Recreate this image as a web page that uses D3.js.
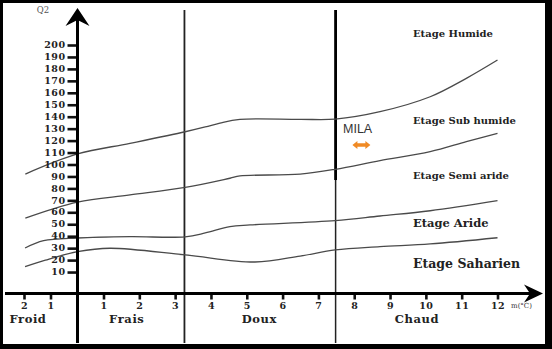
<!DOCTYPE html>
<html>
<head>
<meta charset="utf-8">
<script src="https://cdn.jsdelivr.net/npm/d3@7"></script>
<style>
  body { margin: 0; background: #000; }
  svg { display: block; }
</style>
</head>
<body>
<div id="chart"></div>
<script>
// climagramme d'Emberger : Q2 en fonction de m (°C)
var mTicks = [-2, -1, 1, 2, 3, 4, 5, 6, 7, 8, 9, 10, 11, 12];
var q2Ticks = [10, 20, 30, 40, 50, 60, 70, 80, 90, 100, 110, 120, 130, 140, 150, 160, 170, 180, 190, 200];

// limites entre étages (m, Q2)
var limHumide = [[-1.95, 92], [0, 108.8], [1.74, 117.7], [3.28, 127.4], [3.84, 131.4], [4.25, 134.7], [4.81, 137.8], [6.49, 137.8], [7.47, 138], [8.72, 144.2], [10.12, 156.7], [11.13, 172.1], [12, 187.4]];
var limSubHumide = [[-1.95, 55.2], [0, 68.6], [1.74, 74.5], [3.28, 80.8], [4.53, 88.5], [4.81, 90.4], [6.49, 92], [7.47, 96], [8.72, 103.2], [10.12, 110.7], [11.13, 119.1], [12, 126.1]];
var limSemiAride = [[-1.96, 30.1], [-1.26, 36.2], [0, 38.5], [1.74, 39.6], [3.28, 39.5], [3.84, 42.7], [4.53, 48], [5.09, 49.4], [7.47, 53], [8.72, 56.9], [10.12, 61.3], [12, 69.7]];
var limAride = [[-1.96, 14.5], [-1.19, 20], [0, 27], [1.18, 29.9], [3.28, 24.3], [5.23, 18.4], [6.49, 23.4], [7.47, 28.5], [8.72, 31.2], [10.12, 33.5], [12, 38.7]];

// séparations froid/frais/doux/chaud (la 1ere est l'axe Q2)
var separations = [3.26, 7.48];
var zoneNames = ["Froid", "Frais", "Doux", "Chaud"];
var zoneLabelM = [-1.85, 1.65, 5.35, 9.75];

var etageNames = ["Etage Humide", "Etage Sub humide", "Etage Semi aride", "Etage Aride", "Etage Saharien"];
var etageQ2 = [210, 136.7, 90.6, 50.8, 17.3];
var etageM = 9.64;

// station
var station = "MILA";
var stationM = 8.2;
var stationQ2 = 116.3;

var W = 552, H = 349;
var serif = "'DejaVu Serif', serif";

var x = d3.scaleLinear().domain([-2, -1, 0, 1, 12]).range([24, 50.5, 77.5, 103.5, 497.5]);
var y = d3.scaleLinear().domain([0, 200]).range([284, 45]);
var axeX = 293.5;

var svg = d3.select("#chart").append("svg")
	.attr("width", W)
	.attr("height", H);

// cadre noir
svg.append("rect").attr("width", W).attr("height", H).style("fill", "#000");
svg.append("rect").attr("x", 3).attr("y", 3).attr("width", 542).attr("height", 341).style("fill", "#fff");

// lignes de séparation verticales
separations.forEach(function(s, i){
	svg.append("line")
		.attr("x1", x(s)).attr("x2", x(s))
		.attr("y1", 10).attr("y2", 343)
		.style("stroke", "#222")
		.style("stroke-width", i == 0 ? 1.8 : 1.5);
});
// morceau épais de la 2e séparation
svg.append("line")
	.attr("x1", x(separations[1])).attr("x2", x(separations[1]))
	.attr("y1", 10).attr("y2", y(87))
	.style("stroke", "#000")
	.style("stroke-width", 2.8);

// courbes
var line = d3.line()
	.x(function(d){ return x(d[0]); })
	.y(function(d){ return y(d[1]); })
	.curve(d3.curveCatmullRom.alpha(0.5));

[limHumide, limSubHumide, limSemiAride, limAride].forEach(function(c){
	svg.append("path")
		.attr("d", line(c))
		.style("fill", "none")
		.style("stroke", "#4a4a4a")
		.style("stroke-width", 1.3);
});

// axe Q2
var gy = svg.append("g")
	.attr("transform", "translate(" + x(0) + ",0)")
	.call(d3.axisLeft(y).tickValues(q2Ticks).tickSize(10).tickPadding(2));
gy.select(".domain").remove();
gy.selectAll(".tick line").style("stroke", "#111").style("stroke-width", 2.6);
gy.selectAll(".tick text")
	.attr("dy", "0.28em")
	.style("font-family", serif)
	.style("font-weight", "bold")
	.style("font-size", "9.5px")
	.style("letter-spacing", "0.5px")
	.style("fill", "#222");

svg.append("line")
	.attr("x1", x(0)).attr("x2", x(0))
	.attr("y1", 20).attr("y2", 343)
	.style("stroke", "#000").style("stroke-width", 3);
svg.append("path")
	.attr("d", "M" + x(0) + ",8 L" + (x(0) + 12) + ",26 L" + x(0) + ",20 L" + (x(0) - 12) + ",26 Z")
	.style("fill", "#000");

svg.append("text")
	.attr("x", 43).attr("y", 13)
	.attr("text-anchor", "middle")
	.style("font-family", serif)
	.style("font-size", "8.5px")
	.style("fill", "#555")
	.text("Q2");

// axe m
var gx = svg.append("g")
	.attr("transform", "translate(0," + axeX + ")")
	.call(d3.axisBottom(x).tickValues(mTicks).tickSize(6).tickPadding(3)
		.tickFormat(function(d){ return Math.abs(d); }));
gx.select(".domain").remove();
gx.selectAll(".tick line").style("stroke", "#111").style("stroke-width", 2.6);
gx.selectAll(".tick text")
	.style("font-family", serif)
	.style("font-weight", "bold")
	.style("font-size", "9.5px")
	.style("letter-spacing", "0.5px")
	.style("fill", "#222");

svg.append("line")
	.attr("x1", 5).attr("x2", 530)
	.attr("y1", axeX).attr("y2", axeX)
	.style("stroke", "#000").style("stroke-width", 3);
svg.append("path")
	.attr("d", "M543," + axeX + " L524," + (axeX - 9) + " L530," + axeX + " L524," + (axeX + 9) + " Z")
	.style("fill", "#000");

svg.append("text")
	.attr("x", 511).attr("y", axeX + 14)
	.style("font-family", serif)
	.style("font-size", "7px")
	.style("fill", "#333")
	.text("m(°C)");

// noms des zones thermiques
zoneNames.forEach(function(n, i){
	svg.append("text")
		.attr("x", x(zoneLabelM[i]))
		.attr("y", 323)
		.attr("text-anchor", "middle")
		.style("font-family", serif)
		.style("font-weight", "bold")
		.style("font-size", "11.5px")
		.style("letter-spacing", "0.6px")
		.style("fill", "#222")
		.text(n);
});

// noms des étages
var etageSize = [10, 10, 10, 11.5, 12.5];
etageNames.forEach(function(n, i){
	svg.append("text")
		.attr("x", x(etageM))
		.attr("y", y(etageQ2[i]))
		.attr("dy", "0.35em")
		.style("font-family", serif)
		.style("font-weight", "bold")
		.style("font-size", etageSize[i] + "px")
		.style("fill", "#222")
		.text(n);
});

// station MILA
svg.append("text")
	.attr("x", 343)
	.attr("y", y(stationQ2) - 12)
	.style("font-family", "'Liberation Sans', Arial, sans-serif")
	.style("font-size", "12.5px")
	.style("fill", "#333")
	.text(station);

var sx = x(stationM), sy = y(stationQ2);
svg.append("path")
	.attr("d", "M" + (sx - 9) + "," + sy + " L" + (sx - 4) + "," + (sy - 4) + " L" + (sx - 4) + "," + (sy - 1.8)
		+ " L" + (sx + 4) + "," + (sy - 1.8) + " L" + (sx + 4) + "," + (sy - 4) + " L" + (sx + 9) + "," + sy
		+ " L" + (sx + 4) + "," + (sy + 4) + " L" + (sx + 4) + "," + (sy + 1.8) + " L" + (sx - 4) + "," + (sy + 1.8)
		+ " L" + (sx - 4) + "," + (sy + 4) + " Z")
	.style("fill", "#f08a24");
</script>
</body>
</html>
